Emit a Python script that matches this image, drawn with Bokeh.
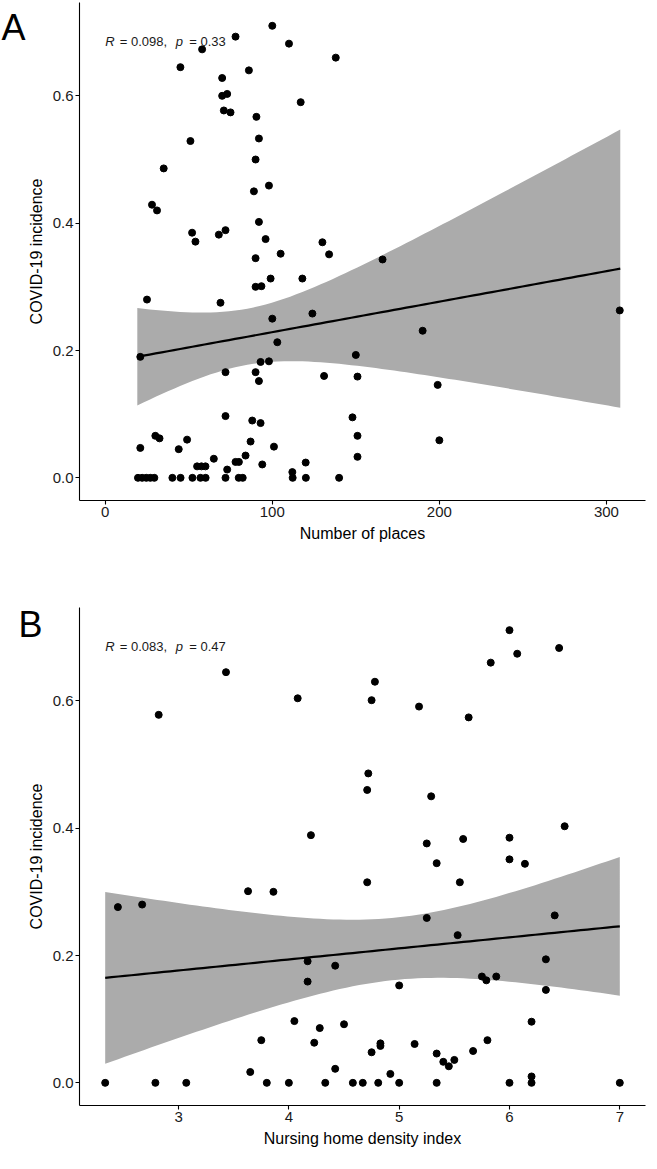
import numpy as np
from bokeh.plotting import figure
from bokeh.models import Label, FixedTicker, Range1d, PrintfTickFormatter
from bokeh.layouts import column
from bokeh.embed import file_html
from bokeh.resources import INLINE

# ---------------- data ----------------
# Panel A: number of places vs COVID-19 incidence
places_x = [100, 78, 110, 58, 45, 86, 70, 70, 73, 117, 71, 75, 90.5, 51, 92, 90, 35, 98, 89, 28,
            31, 92, 52, 68, 72, 54, 96, 130,
            90, 105, 90, 93.5, 99, 118, 25, 69, 124, 100, 103, 21, 93, 98, 72, 90, 92, 131,
            72, 88, 93, 30, 32.5, 49, 87, 21, 44, 101, 84, 65, 78, 80, 120, 55, 57.6, 60, 73, 94, 112,
            19.6, 22.1, 24.6, 27.0, 29.4, 40.2, 45.1, 52.2, 57.0, 60.1, 72.0, 79.9, 82.3, 112.2, 120.1, 140.0,
            138, 134, 166, 308, 190, 150, 151, 199, 148, 151, 200, 151]
places_y = [0.710, 0.693, 0.682, 0.673, 0.645, 0.640, 0.628, 0.600, 0.603, 0.590, 0.577, 0.574, 0.567, 0.529,
            0.533, 0.500, 0.486, 0.459, 0.450, 0.429, 0.420, 0.402, 0.385, 0.382, 0.389, 0.371, 0.375, 0.370,
            0.345, 0.352, 0.300, 0.301, 0.313, 0.313, 0.280, 0.275, 0.258, 0.250, 0.213, 0.190, 0.182, 0.183,
            0.166, 0.166, 0.152, 0.160,
            0.097, 0.090, 0.086, 0.066, 0.062, 0.060, 0.057, 0.047, 0.045, 0.049, 0.035, 0.030, 0.025, 0.025,
            0.024, 0.018, 0.018, 0.018, 0.013, 0.021, 0.009,
            0.0, 0.0, 0.0, 0.0, 0.0, 0.0, 0.0, 0.0, 0.0, 0.0, 0.0, 0.0, 0.0, 0.0, 0.0, 0.0,
            0.660, 0.351, 0.343, 0.263, 0.231, 0.193, 0.159, 0.146, 0.095, 0.066, 0.059, 0.033]

# linear-fit confidence band of panel A, read at three x positions
smooth_A_x = [19.2, 100.0, 308.3]
smooth_A_lower = [0.116, 0.179, 0.111]
smooth_A_upper = [0.269, 0.272, 0.548]

# Panel B: nursing home density index vs COVID-19 incidence
density_x = [3.43, 2.82, 4.08, 4.20,
             3.63, 3.86, 2.45, 2.67, 4.17, 4.17, 4.05, 4.28, 3.75, 4.23, 3.65,
             2.335, 2.79, 3.07, 3.80, 4.00, 4.33,
             6.00, 6.45, 6.07, 5.83, 4.78, 4.75, 5.18, 5.63, 4.72, 4.71, 5.29, 6.50, 6.00, 5.58, 5.25,
             6.00, 5.34, 6.14, 4.71, 5.55, 5.25, 6.41, 5.53, 6.33, 4.42, 5.75, 5.79, 5.88, 5.00, 6.33,
             6.20, 4.50, 5.80, 5.14, 4.83, 4.83, 4.75, 5.67, 5.34, 5.40, 5.50, 5.45, 4.42, 4.92, 6.20,
             4.58, 4.67, 4.81, 5.00, 5.34, 6.00, 6.20, 7.00]
density_y = [0.645, 0.578, 0.604, 0.389,
             0.301, 0.300, 0.276, 0.280, 0.191, 0.159, 0.097, 0.086, 0.067, 0.063, 0.017,
             0.0, 0.0, 0.0, 0.0, 0.0, 0.0,
             0.711, 0.683, 0.674, 0.660, 0.630, 0.601, 0.591, 0.574, 0.486, 0.460, 0.450, 0.403, 0.385,
             0.383, 0.376, 0.351, 0.345, 0.344, 0.315, 0.315, 0.259, 0.263, 0.232, 0.194, 0.184, 0.167,
             0.161, 0.167, 0.153, 0.146,
             0.096, 0.092, 0.067, 0.061, 0.062, 0.058, 0.048, 0.050, 0.046, 0.033, 0.036, 0.026, 0.022,
             0.014, 0.010,
             0.0, 0.0, 0.0, 0.0, 0.0, 0.0, 0.0, 0.0]

# linear-fit confidence band of panel B, read at three x positions
smooth_B_x = [2.335, 5.0, 7.0]
smooth_B_lower = [0.030, 0.162, 0.137]
smooth_B_upper = [0.300, 0.260, 0.355]

y_ticks = [0.0, 0.2, 0.4, 0.6]
places_ticks = [0, 100, 200, 300]
density_ticks = [3, 4, 5, 6, 7]

stats_A = ("0.098", "0.33")
stats_B = ("0.083", "0.47")

FONT = "Liberation Sans"
FRAME_W = 566
FRAME_H = 498
Y_RANGE = (-0.0356, 0.7466)


def smooth_curve(sx, lower, upper, n_grid=80):
    """Straight fit line with a hyperbolic confidence band through the read values."""
    sx = np.asarray(sx, float)
    lo = np.asarray(lower, float)
    hi = np.asarray(upper, float)
    mid = (lo + hi) / 2
    half2 = ((hi - lo) / 2) ** 2
    line_coef = np.polyfit(sx, mid, 1)
    half_coef = np.polyfit(sx, half2, 2)
    gx = np.linspace(sx.min(), sx.max(), n_grid)
    fit = np.polyval(line_coef, gx)
    half = np.sqrt(np.clip(np.polyval(half_coef, gx), 0, None))
    return gx, fit, fit - half, fit + half


def make_panel(xs, ys, smooth, x_range, xticks, xlabel, stats, label_x_data,
               top_border, bottom_border):
    p = figure(frame_width=FRAME_W, frame_height=FRAME_H,
               x_range=Range1d(*x_range), y_range=Range1d(*Y_RANGE),
               output_backend="svg", toolbar_location=None,
               min_border_left=74, min_border_right=1,
               min_border_top=top_border, min_border_bottom=bottom_border)
    p.outline_line_color = None
    p.xgrid.visible = False
    p.ygrid.visible = False
    p.background_fill_color = "white"
    p.border_fill_color = "white"

    gx, fit, lo, hi = smooth_curve(*smooth)
    p.varea(x=gx, y1=lo, y2=hi, fill_color="#ABABAB", fill_alpha=1.0)
    p.line(x=gx, y=fit, line_color="black", line_width=2.2)
    p.scatter(x=xs, y=ys, size=7, marker="circle", fill_color="black", line_color="black")

    p.xaxis.ticker = FixedTicker(ticks=xticks)
    p.yaxis.ticker = FixedTicker(ticks=y_ticks)
    p.yaxis.formatter = PrintfTickFormatter(format="%.1f")
    for ax in (p.xaxis[0], p.yaxis[0]):
        ax.axis_line_color = "black"
        ax.axis_line_width = 1.1
        ax.major_tick_line_color = "black"
        ax.major_tick_line_width = 1.1
        ax.major_tick_in = 0
        ax.major_tick_out = 4
        ax.minor_tick_line_color = None
        ax.major_label_text_font = FONT
        ax.major_label_text_font_size = "15px"
        ax.major_label_text_color = "#1a1a1a"
        ax.major_label_standoff = 2
        ax.axis_label_text_font = FONT
        ax.axis_label_text_font_size = "16px"
        ax.axis_label_text_font_style = "normal"
        ax.axis_label_text_color = "black"
        ax.axis_label_standoff = 5
    p.xaxis.axis_label = xlabel
    p.yaxis.axis_label = "COVID-19 incidence"

    # correlation annotation: italic R and p
    r_val, p_val = stats
    pieces = [("R", "italic", 0), ("= " + r_val + ",", "normal", 14.5),
              ("p", "italic", 70.5), ("= " + p_val, "normal", 84)]
    for txt, style, off in pieces:
        p.add_layout(Label(x=label_x_data, y=0.686, x_offset=off, text=txt,
                           text_font=FONT, text_font_size="13px", text_font_style=style,
                           text_color="#1a1a1a", text_align="left", text_baseline="alphabetic"))
    return p


def letter_label(text, x, y):
    return Label(x=x, y=y, x_units="screen", y_units="screen", text=text,
                 text_font=FONT, text_font_size="36px", text_color="black",
                 text_align="left", text_baseline="alphabetic")


pA = make_panel(places_x, places_y, (smooth_A_x, smooth_A_lower, smooth_A_upper),
                (-15.4, 323.4), places_ticks, "Number of places", stats_A, 0.0, 2, 52)
pB = make_panel(density_x, density_y, (smooth_B_x, smooth_B_lower, smooth_B_upper),
                (2.102, 7.233), density_ticks, "Nursing home density index", stats_B, 2.335, 55, 48)

# panel letters, placed in the plots' left side panels
pA.add_layout(letter_label("A", 1, 473.2), "left")
pB.add_layout(letter_label("B", 18, 481.2), "left")

layout = column(pA, pB, spacing=0)
open("out.html", "w").write(file_html(layout, INLINE))
